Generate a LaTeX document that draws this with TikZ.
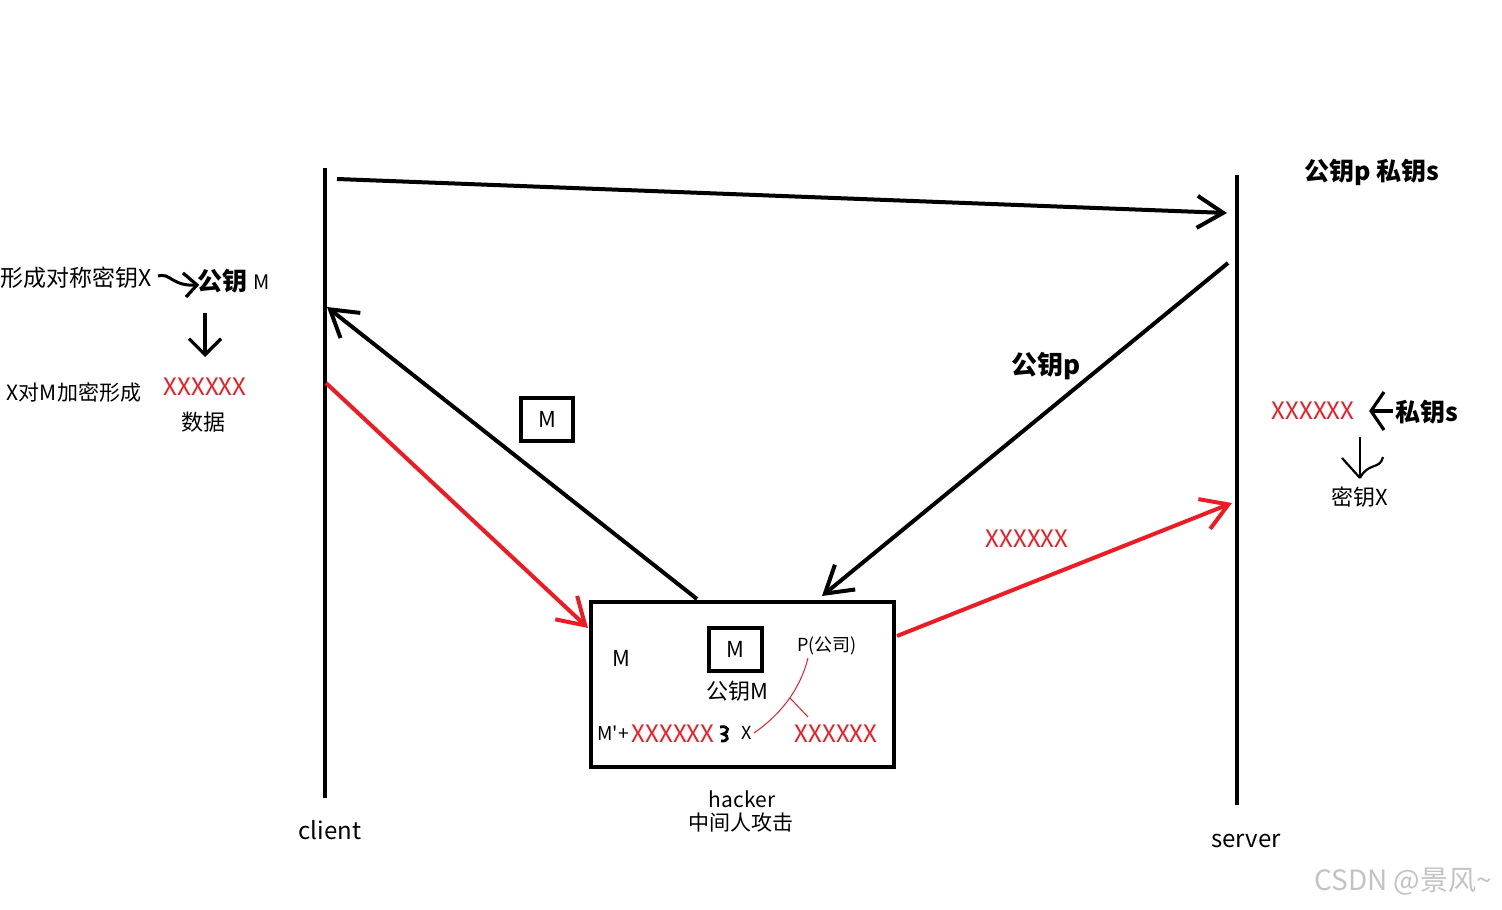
\documentclass[tikz,border=0pt]{standalone}
\usepackage{fontspec}
\setmainfont{Noto Sans CJK SC}
\usetikzlibrary{arrows.meta}
\definecolor{rd}{RGB}{237,28,36}
\definecolor{wm}{RGB}{195,195,195}
\begin{document}
\begin{tikzpicture}[x=0.5pt,y=-0.5pt,
  txt/.style={inner sep=0pt, font=\fontsize{11pt}{13pt}\selectfont},
  smalltxt/.style={inner sep=0pt, font=\fontsize{9pt}{11pt}\selectfont},
  boldtxt/.style={inner sep=0pt, font=\fontsize{12.5pt}{15pt}\selectfont\bfseries},
  redx/.style={inner sep=0pt, text=rd, font=\fontsize{12pt}{14pt}\selectfont},
  life/.style={line width=2pt},
  msg/.style={line width=2pt, -{Straight Barb[length=13pt,width=16pt]}},
  redmsg/.style={line width=2pt, draw=rd, -{Straight Barb[length=13pt,width=16pt]}},
  small arrow/.style={line width=1.6pt, -{Straight Barb[length=8pt,width=16pt]}},
  box/.style={draw, line width=2pt, inner sep=0pt}
]
\useasboundingbox (0,0) rectangle (1502,909);

% lifelines
\coordinate (cTop) at (325,168);
\coordinate (cBot) at (325,798);
\coordinate (sTop) at (1237,175);
\coordinate (sBot) at (1237,805);
\draw[life] (cTop) -- (cBot);
\draw[life] (sTop) -- (sBot);

% hacker box
\node[box, minimum width=151.5pt, minimum height=82.5pt] (hk) at (742.5,684.5) {};
\node[box, minimum width=26.5pt, minimum height=21.5pt] (mbox) at (735.5,649.5) {};
\node[txt] at (mbox) {M};
\node[box, minimum width=26pt, minimum height=21.5pt] (mmid) at (547,419.5) {};
\node[txt] at (mmid) {M};

% connector endpoints
\coordinate (c1) at (337,179);
\coordinate (s1) at (1227,213);
\coordinate (h1) at (697,599);
\coordinate (c2) at (327,307);
\coordinate (c3) at (326,383);
\coordinate (h2) at (588,628);
\coordinate (s2) at (1228,263);
\coordinate (h3) at (822,596);
\coordinate (h4) at (897,636);
\coordinate (s3) at (1232,503);

\draw[msg] (c1) -- (s1);
\draw[msg] (h1) -- (c2);
\draw[redmsg] (c3) -- (h2);
\draw[msg] (s2) -- (h3);
\draw[redmsg] (h4) -- (s3);

% labels on top / server side
\node[boldtxt] (pk) at (1372,172) {公钥p 私钥s};
\node[boldtxt, font=\fontsize{13pt}{15pt}\selectfont\bfseries] (pkp) at (1046,366) {公钥p};
\node[redx] (xmid) at (1027,539) {XXXXXX};

% left side notes
\node[txt, font=\fontsize{11.5pt}{13pt}\selectfont, anchor=west] (form) at (0,278) {形成对称密钥X};
\node[boldtxt] (gy) at (222,281) {公钥};
\node[txt, font=\fontsize{10pt}{12pt}\selectfont] (gym) at (262,282) {M};
\coordinate (sq1) at (158,276);
\coordinate (sq2) at (197,285);
\draw[line width=1.5pt] (sq1) .. controls (170,272) and (172,287) .. (sq2);
\draw[line width=1.6pt] (183,273) -- (sq2) -- (186,297);
\coordinate (d1) at (205,313);
\coordinate (d2) at (205,357);
\draw[small arrow] (d1) -- (d2);
\node[txt, font=\fontsize{10.5pt}{12pt}\selectfont] (xenc) at (74,392) {X对M加密形成};
\node[redx] (xleft) at (205,387) {XXXXXX};
\node[txt] (data) at (203,422) {数据};

% right side notes
\node[redx] (xright) at (1313,411) {XXXXXX};
\node[boldtxt] (sks) at (1427,412) {私钥s};
\coordinate (r1) at (1393,411);
\coordinate (r2) at (1371,411);
\draw[line width=1.6pt] (r1) -- (r2);
\draw[line width=1.6pt] (1384,392) -- (r2) -- (1384,430);
\coordinate (rd1) at (1360,437);
\coordinate (rd2) at (1360,478);
\draw[line width=1.1pt] (rd1) -- (rd2);
\draw[line width=1.1pt] (1342,458) -- (rd2);
\draw[line width=1.1pt] (rd2) .. controls (1368,462) and (1380,470) .. (1383,457);
\node[txt] (keyx) at (1360,497) {密钥X};

% inside hacker box
\node[txt] (hm) at (621,658) {M};
\node[txt] (gym2) at (737,691) {公钥M};
\node[smalltxt] (pco) at (827,646) {P(公司)};
\node[txt, font=\fontsize{9.5pt}{11pt}\selectfont] (mp) at (613,733) {M\textquotesingle{}+};
\node[redx] (xb1) at (673,734) {XXXXXX};
\node[smalltxt] (hx) at (747,733) {X};
\node[redx] (xb2) at (836,734) {XXXXXX};
\draw[line width=1.4pt] (720,727) .. controls (729,725) and (730,732) .. (723,734)
  .. controls (730,736) and (728,742) .. (721,741);
\draw[rd, line width=0.5pt] (808,658) .. controls (800,690) and (780,715) .. (754,733);
\draw[rd, line width=0.5pt] (790,698) -- (808,717);

% bottom labels
\node[txt, font=\fontsize{12pt}{14pt}\selectfont] (client) at (330,830) {client};
\node[txt, font=\fontsize{10.5pt}{12pt}\selectfont] (hacker) at (742,799) {hacker};
\node[txt, font=\fontsize{10.5pt}{12pt}\selectfont] (mitm) at (741,823) {中间人攻击};
\node[txt, font=\fontsize{12pt}{14pt}\selectfont] (server) at (1246,841) {server};
\node[txt, text=wm, font=\fontsize{14pt}{16pt}\selectfont] (wmk) at (1403,882) {CSDN @景风\textasciitilde};
\end{tikzpicture}
\end{document}
